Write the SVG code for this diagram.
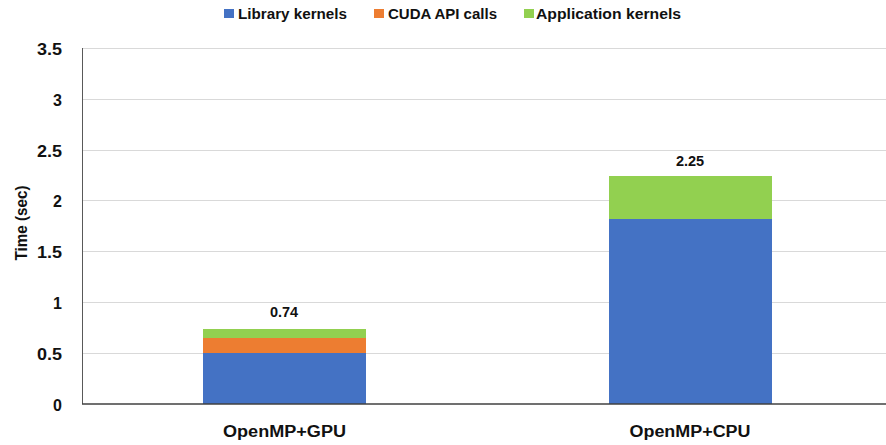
<svg xmlns="http://www.w3.org/2000/svg" width="886" height="445" viewBox="0 0 886 445">
<style>
text{font-family:"Liberation Sans",Arial,sans-serif;font-weight:bold;fill:#111}
.grid{stroke:#d9d9d9;stroke-width:1}
.tick{font-size:16px;text-anchor:end}
.lab{font-size:14.5px;text-anchor:middle}
.cat{font-size:16px;text-anchor:middle}
.leg{font-size:14px}
.lib{fill:#4472c4}
.cuda{fill:#ed7d31}
.app{fill:#92d050}
</style>
<rect width="886" height="445" fill="#fff"/>
<g id="legend">
<rect class="lib" x="224" y="9" width="10" height="9"/>
<text class="leg" x="238" y="19" textLength="109" lengthAdjust="spacingAndGlyphs">Library kernels</text>
<rect class="cuda" x="374" y="9" width="10" height="9"/>
<text class="leg" x="388" y="19" textLength="109" lengthAdjust="spacingAndGlyphs">CUDA API calls</text>
<rect class="app" x="524" y="9" width="10" height="9"/>
<text class="leg" x="536" y="19" textLength="145" lengthAdjust="spacingAndGlyphs">Application kernels</text>
</g>
<g id="gridlines">
<line class="grid" x1="82" y1="48.5" x2="886" y2="48.5"/>
<line class="grid" x1="82" y1="99.5" x2="886" y2="99.5"/>
<line class="grid" x1="82" y1="150.5" x2="886" y2="150.5"/>
<line class="grid" x1="82" y1="200.5" x2="886" y2="200.5"/>
<line class="grid" x1="82" y1="251.5" x2="886" y2="251.5"/>
<line class="grid" x1="82" y1="302.5" x2="886" y2="302.5"/>
<line class="grid" x1="82" y1="353.5" x2="886" y2="353.5"/>
</g>
<g id="yaxis">
<line x1="82.5" y1="48" x2="82.5" y2="404" stroke="#595959" stroke-width="1"/>
<text class="tick" x="62" y="55" textLength="25" lengthAdjust="spacingAndGlyphs">3.5</text>
<text class="tick" x="62" y="106">3</text>
<text class="tick" x="62" y="157" textLength="25" lengthAdjust="spacingAndGlyphs">2.5</text>
<text class="tick" x="62" y="207">2</text>
<text class="tick" x="62" y="258" textLength="25" lengthAdjust="spacingAndGlyphs">1.5</text>
<text class="tick" x="62" y="309">1</text>
<text class="tick" x="62" y="360" textLength="25" lengthAdjust="spacingAndGlyphs">0.5</text>
<text class="tick" x="62" y="411">0</text>
<text font-size="16" text-anchor="middle" transform="translate(27,223) rotate(-90)" textLength="75" lengthAdjust="spacingAndGlyphs">Time (sec)</text>
</g>
<g id="bar-gpu">
<rect class="lib" x="203" y="353" width="163" height="51"/>
<rect class="cuda" x="203" y="338" width="163" height="15"/>
<rect class="app" x="203" y="329" width="163" height="9"/>
<text class="lab" x="284" y="317">0.74</text>
<text class="cat" x="284.5" y="437" textLength="123" lengthAdjust="spacingAndGlyphs">OpenMP+GPU</text>
</g>
<g id="bar-cpu">
<rect class="lib" x="609" y="219" width="163" height="185"/>
<rect class="app" x="609" y="176" width="163" height="43"/>
<text class="lab" x="690" y="166">2.25</text>
<text class="cat" x="690" y="437" textLength="121" lengthAdjust="spacingAndGlyphs">OpenMP+CPU</text>
</g>
<g id="connectors">
<line x1="82" y1="404" x2="886" y2="404" stroke="#404040" stroke-width="1.5"/>
</g>
</svg>
